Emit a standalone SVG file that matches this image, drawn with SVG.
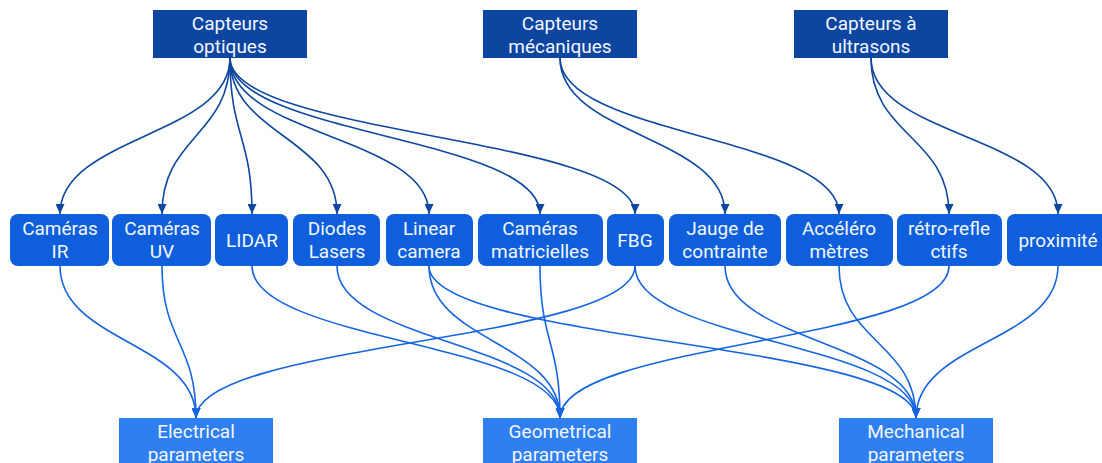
<svg xmlns="http://www.w3.org/2000/svg" width="1102" height="463" viewBox="0 0 1102 463">
<style>
.top{fill:#0d45a0}
.mid{fill:#0f5fdc}
.bot{fill:#2f7ff0}
text{font-family:Roboto,"Liberation Sans",sans-serif;font-size:19px;fill:#f2f7ff;text-anchor:middle}
.ct{fill:none;stroke:#0d47a1;stroke-width:1.6}
.cb{fill:none;stroke:#1565e0;stroke-width:1.6}
</style>
<defs>
<marker id="ah1" markerUnits="userSpaceOnUse" markerWidth="10" markerHeight="9" refX="10" refY="4.5" orient="auto"><path d="M0,0L10,4.5L0,9z" fill="#0d47a1"/></marker>
<marker id="ah2" markerUnits="userSpaceOnUse" markerWidth="10" markerHeight="9" refX="10" refY="4.5" orient="auto"><path d="M0,0L10,4.5L0,9z" fill="#1565e0"/></marker>
</defs>
<g id="connectors">
<g marker-end="url(#ah1)">
<path class="ct" d="M230,58C230,136 60,136 60,214"/>
<path class="ct" d="M230,58C230,136 162,136 162,214"/>
<path class="ct" d="M230,58C230,136 252,136 252,214"/>
<path class="ct" d="M230,58C230,136 337,136 337,214"/>
<path class="ct" d="M230,58C230,136 429,136 429,214"/>
<path class="ct" d="M230,58C230,136 540,136 540,214"/>
<path class="ct" d="M230,58C230,136 635,136 635,214"/>
<path class="ct" d="M560,58C560,136 725,136 725,214"/>
<path class="ct" d="M560,58C560,136 839,136 839,214"/>
<path class="ct" d="M871,58C871,136 949,136 949,214"/>
<path class="ct" d="M871,58C871,136 1058,136 1058,214"/>
</g>
<g marker-end="url(#ah2)">
<path class="cb" d="M60,266C60,342 196,342 196,418"/>
<path class="cb" d="M162,266C162,342 196,342 196,418"/>
<path class="cb" d="M635,266C635,342 196,342 196,418"/>
<path class="cb" d="M252,266C252,342 560,342 560,418"/>
<path class="cb" d="M337,266C337,342 560,342 560,418"/>
<path class="cb" d="M429,266C429,342 560,342 560,418"/>
<path class="cb" d="M540,266C540,342 560,342 560,418"/>
<path class="cb" d="M949,266C949,342 560,342 560,418"/>
<path class="cb" d="M429,266C429,342 916,342 916,418"/>
<path class="cb" d="M635,266C635,342 916,342 916,418"/>
<path class="cb" d="M725,266C725,342 916,342 916,418"/>
<path class="cb" d="M839,266C839,342 916,342 916,418"/>
<path class="cb" d="M1058,266C1058,342 916,342 916,418"/>
</g>
</g>
<g id="n_optiques"><rect class="top" x="153" y="10" width="154" height="48"/><text x="230" y="29.5">Capteurs</text><text x="230" y="52.5">optiques</text></g>
<g id="n_mecaniques"><rect class="top" x="483" y="10" width="154" height="48"/><text x="560" y="29.5">Capteurs</text><text x="560" y="52.5">mécaniques</text></g>
<g id="n_ultrasons"><rect class="top" x="794" y="10" width="154" height="48"/><text x="871" y="29.5">Capteurs à</text><text x="871" y="52.5">ultrasons</text></g>
<g id="n_ir"><rect class="mid" x="10" y="214" width="99" height="52" rx="8"/><text x="60" y="235">Caméras</text><text x="60" y="258">IR</text></g>
<g id="n_uv"><rect class="mid" x="112" y="214" width="99" height="52" rx="8"/><text x="162" y="235">Caméras</text><text x="162" y="258">UV</text></g>
<g id="n_lidar"><rect class="mid" x="215" y="214" width="73" height="52" rx="8"/><text x="252" y="247">LIDAR</text></g>
<g id="n_diodes"><rect class="mid" x="293" y="214" width="87" height="52" rx="8"/><text x="337" y="235">Diodes</text><text x="337" y="258">Lasers</text></g>
<g id="n_linear"><rect class="mid" x="386" y="214" width="87" height="52" rx="8"/><text x="429" y="235">Linear</text><text x="429" y="258">camera</text></g>
<g id="n_matricielles"><rect class="mid" x="478" y="214" width="125" height="52" rx="8"/><text x="540" y="235">Caméras</text><text x="540" y="258">matricielles</text></g>
<g id="n_fbg"><rect class="mid" x="607" y="214" width="57" height="52" rx="8"/><text x="635" y="247">FBG</text></g>
<g id="n_jauge"><rect class="mid" x="669" y="214" width="112" height="52" rx="8"/><text x="725" y="235">Jauge de</text><text x="725" y="258">contrainte</text></g>
<g id="n_accel"><rect class="mid" x="786" y="214" width="107" height="52" rx="8"/><text x="839" y="235">Accéléro</text><text x="839" y="258">mètres</text></g>
<g id="n_retro"><rect class="mid" x="897" y="214" width="105" height="52" rx="8"/><text x="949" y="235">rétro-refle</text><text x="949" y="258">ctifs</text></g>
<g id="n_proximite"><rect class="mid" x="1007" y="214" width="102" height="52" rx="8"/><text x="1058" y="247">proximité</text></g>
<g id="n_electrical"><rect class="bot" x="119" y="418" width="154" height="48"/><text x="196" y="437.5">Electrical</text><text x="196" y="460.5">parameters</text></g>
<g id="n_geometrical"><rect class="bot" x="483" y="418" width="154" height="48"/><text x="560" y="437.5">Geometrical</text><text x="560" y="460.5">parameters</text></g>
<g id="n_mechanical"><rect class="bot" x="839" y="418" width="154" height="48"/><text x="916" y="437.5">Mechanical</text><text x="916" y="460.5">parameters</text></g>
</svg>
